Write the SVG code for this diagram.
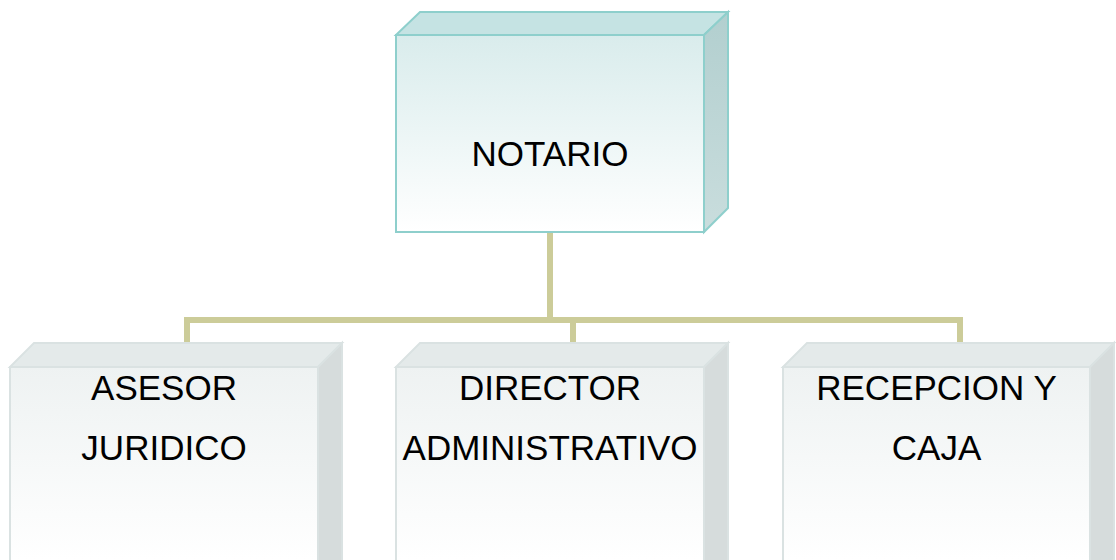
<svg xmlns="http://www.w3.org/2000/svg" width="1116" height="560" viewBox="0 0 1116 560">
<style>
text{font-family:"Liberation Sans",Arial,sans-serif;font-size:35px;fill:#000;text-anchor:middle}
.conn{fill:none;stroke:#cccc99;stroke-width:6}
.tt{fill:#c5e3e3;stroke:#8ecfcc;stroke-width:2}
.tf{fill:url(#gTop);stroke:#8ecfcc;stroke-width:2}
.tr{fill:url(#gTopR);stroke:#8ecfcc;stroke-width:2}
.bt{fill:#e4eaea;stroke:#dae2e2;stroke-width:2}
.bf{fill:url(#gBot);stroke:#dae2e2;stroke-width:2}
.br{fill:#d6dcdc;stroke:#dae2e2;stroke-width:2}
</style>
<defs>
<linearGradient id="gTop" x1="0" y1="0" x2="0" y2="1">
<stop offset="0" stop-color="#d9ecec"/><stop offset="1" stop-color="#ffffff"/>
</linearGradient>
<linearGradient id="gTopR" x1="0" y1="0" x2="0" y2="1">
<stop offset="0" stop-color="#b2cfcf"/><stop offset="1" stop-color="#c9dddd"/>
</linearGradient>
<linearGradient id="gBot" gradientUnits="userSpaceOnUse" x1="0" y1="367" x2="0" y2="560">
<stop offset="0" stop-color="#eef2f2"/><stop offset="1" stop-color="#ffffff"/>
</linearGradient>
</defs>
<g id="connectors">
<path class="conn" d="M550 233 V320 M187 343 V320 H960 V343 M573 320 V343"/>
</g>
<g id="notario">
<polygon class="tt" points="396,35 420,12 728,12 704,35"/>
<polygon class="tr" points="704,35 728,12 728,208 704,232"/>
<rect class="tf" x="396" y="35" width="308" height="197"/>
<text x="550" y="166">NOTARIO</text>
</g>
<g id="asesor">
<polygon class="bt" points="10,367 34,343 342,343 318,367"/>
<polygon class="br" points="318,367 342,343 342,560 318,584"/>
<rect class="bf" x="10" y="367" width="308" height="220"/>
<text x="164" y="400">ASESOR</text>
<text x="164" y="460">JURIDICO</text>
</g>
<g id="director">
<polygon class="bt" points="396,367 420,343 728,343 704,367"/>
<polygon class="br" points="704,367 728,343 728,560 704,584"/>
<rect class="bf" x="396" y="367" width="308" height="220"/>
<text x="550" y="400">DIRECTOR</text>
<text x="550" y="460">ADMINISTRATIVO</text>
</g>
<g id="recepcion">
<polygon class="bt" points="783,367 807,343 1114,343 1090,367"/>
<polygon class="br" points="1090,367 1114,343 1114,560 1090,584"/>
<rect class="bf" x="783" y="367" width="307" height="220"/>
<text x="936.5" y="400">RECEPCION Y</text>
<text x="936.5" y="460">CAJA</text>
</g>
</svg>
